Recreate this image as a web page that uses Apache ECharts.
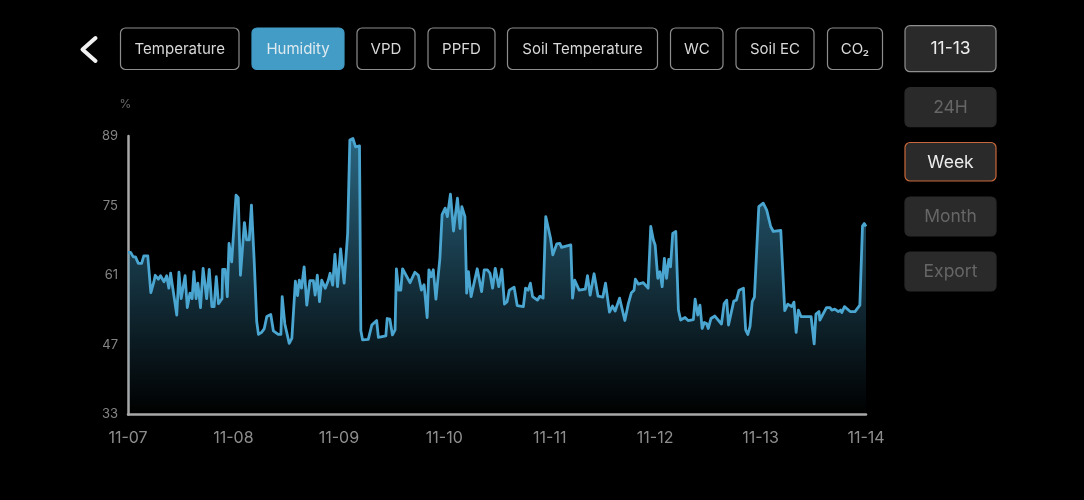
<!DOCTYPE html>
<html><head><meta charset="utf-8">
<style>html,body{margin:0;padding:0;background:#000}#c{width:1084px;height:500px}</style>
<script src="https://cdn.jsdelivr.net/npm/echarts@6/dist/echarts.min.js"></script>
</head><body><div id="c"></div>
<script>
const dayLabels = ['11-07','11-08','11-09','11-10','11-11','11-12','11-13','11-14'];
const yTicks = [33,47,61,75,89];
const unit = '%';
const metricLabels = ['Temperature','Humidity','VPD','PPFD','Soil Temperature','WC','Soil EC','CO₂'];
const sideLabels = ['11-13','24H','Week','Month','Export'];
const hours = [0,0.6,1.2,1.7,2.35,3.1,3.6,4.5,5.2,5.9,6.2,6.9,7.4,8.2,8.8,9.3,9.7,10.2,11.1,11.6,12.1,13.0,13.5,14.1,14.6,15.0,15.5,15.9,16.5,17.1,17.9,18.5,19.1,19.6,20.1,20.6,21.4,21.55,22.1,22.6,23.0,23.6,24.6,25.1,25.6,26.5,27.0,27.6,28.1,28.7,29.3,29.7,30.4,31.0,31.6,32.5,33.1,34.2,34.8,35.1,35.7,36.1,36.7,37.3,38.1,38.6,39.0,39.5,40.1,40.7,41.4,42.2,42.6,43.1,43.6,44.1,44.9,45.6,46.0,46.6,47.1,47.7,48.4,49.2,50.0,50.5,51.2,51.8,52.7,
53.0,53.4,54.7,55.5,56.6,57.0,58.7,59.0,59.6,60.2,60.8,61.1,61.6,62.1,62.5,64.2,65.3,66.1,66.8,67.4,68.1,68.5,69.0,69.5,70.1,71.0,71.5,72.2,72.7,73.4,74.1,75.0,75.6,76.0,76.7,77.1,77.5,78.1,79.5,80.5,81.1,81.8,82.4,83.0,83.6,84.4,85.1,85.7,86.3,86.8,87.9,88.6,90.0,90.5,91.1,91.6,92.1,93.2,93.8,94.5,95.1,96.2,96.7,97.6,98.3,98.7,100.8,101.2,101.7,102.1,102.7,104.1,104.6,105.2,106.1,107.0,108.1,108.7,109.6,110.3,110.9,111.9,
113.1,113.9,114.6,115.2,115.5,116.2,117.3,118.4,119.0,119.6,120.0,120.6,121.1,121.6,122.1,122.6,123.1,123.5,124.0,124.7,125.3,125.8,126.8,127.5,128.7,129.1,129.7,130.2,130.7,131.2,131.7,132.1,132.7,133.6,135.1,135.7,136.3,136.7,137.9,138.5,139.1,140.1,140.6,141.1,141.6,142.1,142.6,143.6,144.6,145.4,146.3,146.9,148.6,149.5,150.2,151.1,151.6,152.1,152.6,153.2,155.5,156.2,156.6,157.3,157.5,159.0,159.8,160.2,160.9,161.7,162.2,162.5,163.1,164.4,165.5,166.6,167.2,167.6,168.0];
const humidity = [65.6,65.6,64.7,64.7,63.4,63.4,64.9,64.9,57.5,59.7,61.0,60.2,60.9,59.7,60.9,58.4,61.4,58.4,53.0,61.6,56.3,60.9,54.5,57.4,56.3,61.7,56.3,59.4,54.5,62.4,56.3,62.2,54.7,54.7,60.7,55.3,56.3,62.2,62.2,56.7,67.4,63.7,77.1,76.6,61.0,71.6,68.1,68.1,75.1,64.4,51.7,49.1,49.5,50.2,52.7,53.1,49.8,49.1,49.1,56.7,51.2,51.2,47.3,48.3,59.8,56.9,60.0,58.4,62.7,55.0,59.9,59.9,57.0,61.0,55.7,60.0,58.4,60.0,61.4,59.0,65.2,58.7,66.3,59.4,69.4,88.2,88.5,86.8,87.0,
49.9,48.0,48.1,51.0,51.9,48.5,48.8,52.3,52.2,49.0,50.0,62.3,58.0,58.0,62.3,59.5,61.6,61.0,58.0,59.1,52.5,62.1,60.7,62.1,56.2,64.4,73.2,74.5,72.8,77.3,69.9,76.5,70.4,74.8,72.8,57.4,61.7,56.7,62.3,57.7,62.1,62.1,61.4,58.4,62.4,58.7,62.2,55.2,55.7,58.0,58.6,54.9,54.7,58.4,58.0,59.4,56.7,56.0,56.8,56.4,72.8,68.4,65.1,67.3,67.4,66.6,67.1,56.4,60.0,59.8,58.0,58.2,60.9,57.0,61.3,56.8,56.6,59.4,53.6,54.8,53.8,56.4,
51.9,55.3,57.5,58.0,60.2,59.2,59.5,58.4,70.8,68.1,67.1,60.4,61.7,58.7,64.4,60.4,64.2,62.7,69.4,69.8,54.0,52.0,52.5,51.9,52.1,56.2,53.0,55.0,50.3,51.5,51.3,50.3,52.3,52.8,51.2,55.3,56.0,51.0,55.8,56.0,58.0,58.4,50.0,49.1,50.7,55.7,56.6,74.8,75.5,74.1,70.8,69.8,70.0,53.9,55.2,54.7,55.6,49.5,54.0,52.7,52.7,47.2,53.2,53.7,52.0,54.5,54.5,54.0,54.2,53.7,54.0,53.5,54.7,53.7,53.7,55.0,70.9,71.4,70.8];

// Layout of the buttons, kept apart from the chart's data
const metricBoxes = [[120.5,118.5],[252,92],[357,58],[428,67],[507.5,150],[670.5,52.5],[736,78],[827.5,55]];
const sideBoxes = [[25.7,46],[87.7,39],[142.5,38.5],[197,39],[252,39]];
const FONT = 'Inter, Roboto, sans-serif';

const graphic = [];
function button(x,y,w,h,label,fill,stroke,textColor,size){
  graphic.push({type:'rect',shape:{x:x,y:y,width:w,height:h,r:5},
    style:{fill:fill,stroke:stroke,lineWidth:1.2},silent:true});
  graphic.push({type:'text',x:x+w/2,y:y+h/2+0.5,silent:true,
    style:{text:label,fill:textColor,font:size+'px '+FONT,align:'center',verticalAlign:'middle'}});
}
metricLabels.forEach((l,i)=>{
  const b=metricBoxes[i], on=i===1;
  button(b[0],28,b[1],41.5,l,on?'#429cc6':'#000',on?'#429cc6':'#8d8d8d',on?'#dfeaf0':'#d8d8d8',15);
});
sideLabels.forEach((l,i)=>{
  const b=sideBoxes[i];
  const stroke = i===0?'#8f8f8f':i===2?'#c8683a':'#2a2a2a';
  const col = (i===0||i===2)?'#ececec':'#666';
  button(905,b[0],91,b[1],l,'#2a2a2a',stroke,col,17.5);
});
graphic.push({type:'polyline',shape:{points:[[95.5,38],[82.5,49.5],[95.5,61]]},silent:true,
  style:{stroke:'#f2f2f2',lineWidth:4,fill:'none',lineCap:'round',lineJoin:'round'}});

const chart = echarts.init(document.getElementById('c'),null,{renderer:'canvas'});
chart.setOption({
  backgroundColor:'#000',
  animation:false,
  textStyle:{fontFamily:FONT},
  graphic:graphic,
  grid:{left:128,right:218,top:136,bottom:85.5,containLabel:false},
  xAxis:{type:'value',min:0,max:168,interval:24,
    axisLine:{onZero:false,lineStyle:{color:'#a8a8a8',width:2.5}},
    axisTick:{show:false},splitLine:{show:false},
    axisLabel:{color:'#8e8e8e',fontSize:16,margin:16,fontFamily:FONT,showMinLabel:true,showMaxLabel:true,
      formatter:v=>dayLabels[Math.round(v/24)]}},
  yAxis:{type:'value',min:yTicks[0],max:yTicks[yTicks.length-1],
    name:unit,nameLocation:'end',nameGap:26,
    nameTextStyle:{color:'#6a6a6a',fontSize:12,align:'center',padding:[0,5,0,0],fontFamily:FONT},
    axisLine:{show:true,lineStyle:{color:'#a8a8a8',width:2.5}},
    axisTick:{show:false},splitLine:{show:false},
    axisLabel:{color:'#858585',fontSize:13,margin:10,padding:[3,0,0,0],fontFamily:FONT,customValues:yTicks}},
  series:[{type:'line',symbol:'none',smooth:false,clip:false,
    data:hours.map((h,i)=>[h,humidity[i]]),
    lineStyle:{color:'#4aa6d0',width:2.8,join:'round'},
    areaStyle:{origin:'start',color:new echarts.graphic.LinearGradient(0,0,0,1,[
      {offset:0,color:'rgba(70,170,215,0.85)'},
      {offset:1,color:'rgba(70,170,215,0)'}])}}]
});
</script></body></html>
